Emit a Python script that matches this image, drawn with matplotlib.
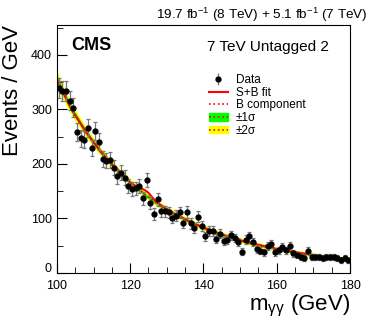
import numpy as np
import matplotlib
matplotlib.use("Agg")
import matplotlib.pyplot as plt
import matplotlib.transforms as mtransforms
from matplotlib.lines import Line2D
from matplotlib.patches import Patch

plt.rcParams['font.family'] = ['Liberation Sans', 'DejaVu Sans']
plt.rcParams['mathtext.fontset'] = 'custom'
plt.rcParams['mathtext.rm'] = 'Liberation Sans'
plt.rcParams['mathtext.it'] = 'Liberation Sans'

# data points, 1 GeV bins
mass = np.arange(100.5, 180, 1.0)
counts = [340, 334, 333, 316, 303, 259, 247, 244, 266, 229,
          260, 241, 209, 206, 207, 193, 177, 184, 175, 160,
          154, 155, 160, 137, 171, 129, 108, 135, 113, 113,
          111, 101, 105, 111, 92, 112, 91, 82, 103, 86,
          67, 77, 77, 63, 72, 59, 61, 69, 64, 56,
          39, 61, 67, 57, 44, 41, 38, 49, 53, 38,
          42, 48, 42, 50, 36, 33, 30, 27, 41, 29,
          30, 30, 27, 29, 30, 30, 27, 23, 27, 23]

# fit curves
curve_mass = [100, 104, 108, 112, 116, 120, 122, 123, 124, 125, 126, 127, 128,
              130, 132, 136, 140, 144, 148, 152, 156, 160, 164, 168, 172, 176, 180]
bkg = [355, 300, 258, 222, 192, 166, 155, 150, 144, 139, 134, 129, 125,
       117, 109, 95, 83, 73, 64, 56, 50, 44, 39, 35, 31, 28, 25]
sb = [355, 300, 258, 222, 192, 166, 157, 155, 152, 147, 139, 131, 126,
      117, 109, 95, 83, 73, 64, 56, 50, 44, 39, 35, 31, 28, 25]
err2 = [16, 11, 9, 8, 7, 6.5, 6.3, 6.2, 6.1, 6, 6, 5.9, 5.8,
        5.6, 5.5, 5.2, 5, 4.8, 4.6, 4.4, 4.2, 4, 4, 4, 4, 4, 4]
err1 = [e / 2 for e in err2]

fig = plt.figure(figsize=(3.74, 3.23), dpi=100)
ax = fig.add_axes([0.152, 0.155, 0.784, 0.768])

b = np.array(bkg)
ax.fill_between(curve_mass, b - np.array(err2), b + np.array(err2), color='#ffff00', lw=0)
ax.fill_between(curve_mass, b - np.array(err1), b + np.array(err1), color='#00ff00', lw=0)
ax.plot(curve_mass, bkg, color='red', ls=':', lw=1.2)
ax.plot(curve_mass, sb, color='red', lw=1.5)

ax.errorbar(mass, counts, yerr=np.sqrt(counts), fmt='o', color='black', ms=3.5,
            ecolor='#777777', elinewidth=0.9, capsize=1.5, capthick=0.9)

ax.set_xlim(100, 180)
ax.set_ylim(0, 455)
ax.set_xticks([100, 120, 140, 160, 180])
ax.set_xticks(np.arange(100, 181, 5), minor=True)
ax.set_yticks([0, 100, 200, 300, 400])
ax.set_yticks(np.arange(0, 451, 50), minor=True)
ax.tick_params(which='both', direction='in', top=False, right=False, labelsize=9)
ax.tick_params(which='major', length=7)
ax.tick_params(which='minor', length=4)
ax.tick_params(axis='x', pad=5)

# lift the "0" label like ROOT does, so it clears the "100"
zero = ax.yaxis.get_majorticklabels()[0]
zero.set_transform(zero.get_transform() +
                   mtransforms.ScaledTranslation(0, 4 / 72, fig.dpi_scale_trans))

ax.set_ylabel('Events / GeV', fontsize=16, loc='top', labelpad=6)
ax.set_xlabel(r'm$_{\gamma\gamma}$ (GeV)', fontsize=16, loc='right', labelpad=1)

ax.text(0.05, 0.95, 'CMS', transform=ax.transAxes, fontsize=13, fontweight='bold',
        va='top', ha='left')
fig.text(0.982, 0.955, r'19.7 fb$^{-1}$ (8 TeV) + 5.1 fb$^{-1}$ (7 TeV)',
         ha='right', va='center', fontsize=9.7)
ax.text(0.512, 0.911, '7 TeV Untagged 2', transform=ax.transAxes, fontsize=11,
        ha='left', va='center')

h_data = (Line2D([], [], marker='|', color='#777777', ms=9, mew=0.9, ls='none'),
          Line2D([], [], marker='o', color='black', ms=3.5, ls='none'))
h_sb = Line2D([], [], color='red', lw=1.5)
h_b = Line2D([], [], color='red', ls=':', lw=1.2)
h_1s = (Patch(color='#00ff00'), Line2D([], [], color='red', ls=':', lw=1.2))
h_2s = (Patch(color='#ffff00'), Line2D([], [], color='red', ls=':', lw=1.2))
ax.legend([h_data, h_sb, h_b, h_1s, h_2s],
          ['Data', 'S+B fit', 'B component', '±1σ', '±2σ'],
          loc='upper left', bbox_to_anchor=(0.498, 0.825), borderpad=0,
          frameon=False, fontsize=8.5, handlelength=1.6, handleheight=0.6,
          labelspacing=0.05, handletextpad=0.7)

fig.savefig('out.png', dpi=100)
